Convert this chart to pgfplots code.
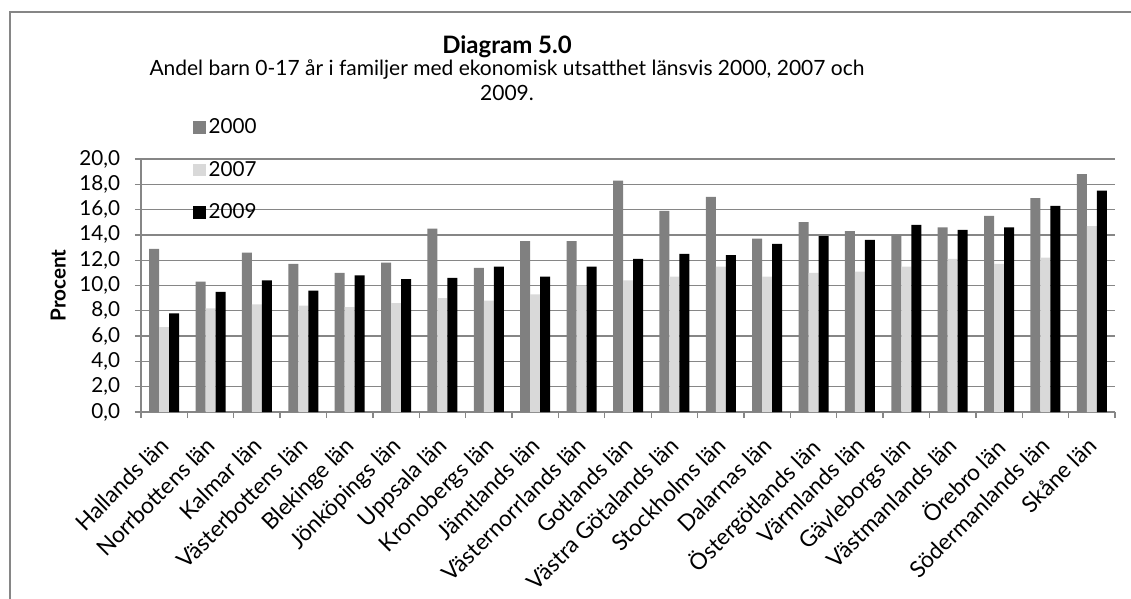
\documentclass[border=0pt]{standalone}
\usepackage{fontspec}
\setmainfont{Lato}
\usepackage{pgfplots}
\usepackage{pgfplotstable}
\pgfplotsset{compat=1.18}

\definecolor{c2000}{HTML}{808080}
\definecolor{c2007}{HTML}{D9D9D9}
\definecolor{c2009}{HTML}{000000}
\definecolor{gridc}{HTML}{868686}

% andel barn (procent) per län
\pgfplotstableread{
idx y2000 y2007 y2009
0  12.9  6.7  7.8
1  10.3  8.2  9.5
2  12.6  8.5 10.4
3  11.7  8.4  9.6
4  11.0  8.3 10.8
5  11.8  8.6 10.5
6  14.5  9.0 10.6
7  11.4  8.8 11.5
8  13.5  9.3 10.7
9  13.5 10.0 11.5
10 18.3 10.4 12.1
11 15.9 10.7 12.5
12 17.0 11.5 12.4
13 13.7 10.7 13.3
14 15.0 11.0 13.9
15 14.3 11.1 13.6
16 14.0 11.5 14.8
17 14.6 12.1 14.4
18 15.5 11.7 14.6
19 16.9 12.2 16.3
20 18.8 14.7 17.5
}\datatable

\begin{document}
\fontsize{15}{18}\selectfont
\begin{tikzpicture}
\useasboundingbox (-105.75pt,-140.25pt) rectangle (742.5pt,309pt);
\draw[gridc, line width=1pt] (-98.25pt,-150pt) -- (-98.25pt,300pt) -- (750pt,300pt);

\begin{axis}[
    scale only axis,
    width=730.5pt, height=189.75pt,
    ybar=0pt, bar width=7.5pt,
    ymin=0, ymax=20, ytick={0,2,...,20},
    xmin=-0.5, xmax=20.5,
    xtick={0,...,20},
    xticklabels={Hallands län, Norrbottens län, Kalmar län, Västerbottens län,
        Blekinge län, Jönköpings län, Uppsala län, Kronobergs län, Jämtlands län,
        Västernorrlands län, Gotlands län, Västra Götalands län, Stockholms län,
        Dalarnas län, Östergötlands län, Värmlands län, Gävleborgs län,
        Västmanlands län, Örebro län, Södermanlands län, Skåne län},
    xticklabel style={rotate=45, anchor=north east, inner sep=1pt,
        font=\fontsize{17}{20}\selectfont, xshift=-11pt, yshift=-5pt},
    yticklabel style={font=\fontsize{15.5}{18}\selectfont, xshift=-6pt},
    major x tick style={draw=none},
    minor xtick={-0.5,0.5,...,20.5},
    minor tick length=4.5pt, major tick length=4.5pt,
    tick align=outside,
    tick style={gridc, line width=1pt},
    axis lines*=left,
    axis line style={gridc, line width=1pt},
    ymajorgrids,
    grid style={gridc, line width=1pt},
    /pgf/number format/.cd, fixed, fixed zerofill, precision=1, use comma, assume math mode=true,
    /pgfplots/.cd,
    ylabel={\bfseries Procent},
    ylabel style={at={(axis description cs:0,0.5)}, anchor=center, rotate=0,
        yshift=62pt, font=\fontsize{15.5}{18}\selectfont},
    legend style={at={(rel axis cs:0,1)}, anchor=north west, xshift=36pt, yshift=34.5pt,
        draw=none, fill=none, row sep=14.4pt, font=\fontsize{15.5}{18}\selectfont},
    legend cell align=left,
    legend image code/.code={\fill[#1] (0pt,-4.75pt) rectangle (9.5pt,4.75pt);},
]
\addplot[fill=c2000, draw=none] table[x=idx, y=y2000] {\datatable};
\addlegendentry{2000}
\addplot[fill=c2007, draw=none] table[x=idx, y=y2007] {\datatable};
\addlegendentry{2007}
\addplot[fill=c2009, draw=none] table[x=idx, y=y2009] {\datatable};
\addlegendentry{2009}
\end{axis}

\node[font=\bfseries\fontsize{18}{21}\selectfont] at (274.5pt,273.75pt) {Diagram 5.0};
\node[font=\fontsize{15.75}{19}\selectfont] at (274.5pt,256.5pt) {Andel barn 0-17 år i familjer med ekonomisk utsatthet länsvis 2000, 2007 och};
\node[font=\fontsize{15.75}{19}\selectfont] at (274.5pt,239.25pt) {2009.};
\end{tikzpicture}
\end{document}
